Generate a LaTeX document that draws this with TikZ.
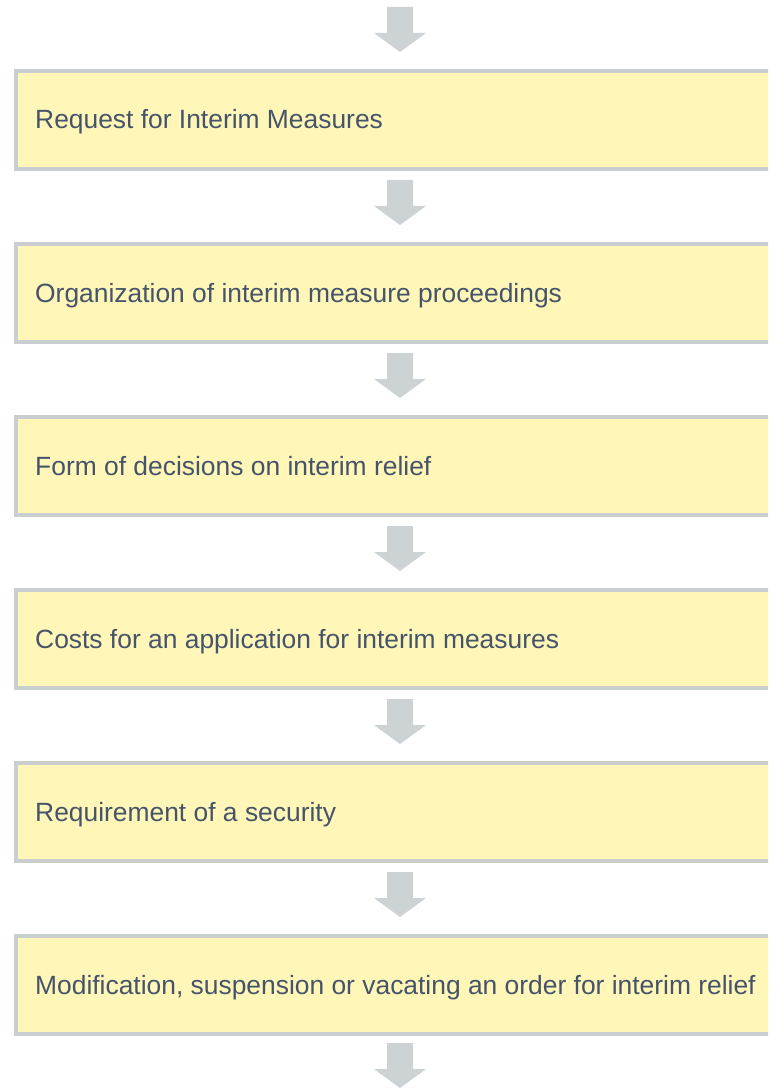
\documentclass[tikz,border=0pt]{standalone}
\usepackage{fontspec}
\setmainfont{Liberation Sans}
\definecolor{boxfill}{HTML}{FFF6B8}
\definecolor{boxline}{HTML}{C9CED1}
\definecolor{arrowc}{HTML}{CDD2D5}
\definecolor{txt}{HTML}{44546A}
\tikzset{
  stepbox/.style={fill=boxfill, draw=boxline, line width=4pt},
  steptext/.style={anchor=base west, inner sep=0pt, text=txt, font=\fontsize{26.4}{30}\selectfont},
  downarrow/.style={fill=arrowc, draw=none}
}
\newcommand{\dnarrow}[2]{% name, top y
  \fill[downarrow] (387,#2) -- (413,#2) -- (413,#2+26) -- (426,#2+26) -- (400,#2+45) -- (374,#2+26) -- (387,#2+26) -- cycle;
  \coordinate (#1) at (400,#2+45);
}
\begin{document}
\begin{tikzpicture}[x=1pt,y=-1pt]
\useasboundingbox (0,0) rectangle (768,1091);
\clip (0,0) rectangle (768,1091);
\foreach \i/\t in {0/Request for Interim Measures,
                   1/Organization of interim measure proceedings,
                   2/Form of decisions on interim relief,
                   3/Costs for an application for interim measures,
                   4/Requirement of a security,
                   5/{Modification, suspension or vacating an order for interim relief}} {
  \pgfmathsetmacro{\top}{67+173*\i}
  \dnarrow{a\i}{\top-60}
  \node[stepbox, anchor=north west, minimum width=780pt, minimum height=98pt, inner sep=0pt] (b\i) at (14,\top+2) {};
  \node[steptext] (t\i) at (35,\top+62) {\t};
}
\dnarrow{aend}{1043}
\end{tikzpicture}
\end{document}
